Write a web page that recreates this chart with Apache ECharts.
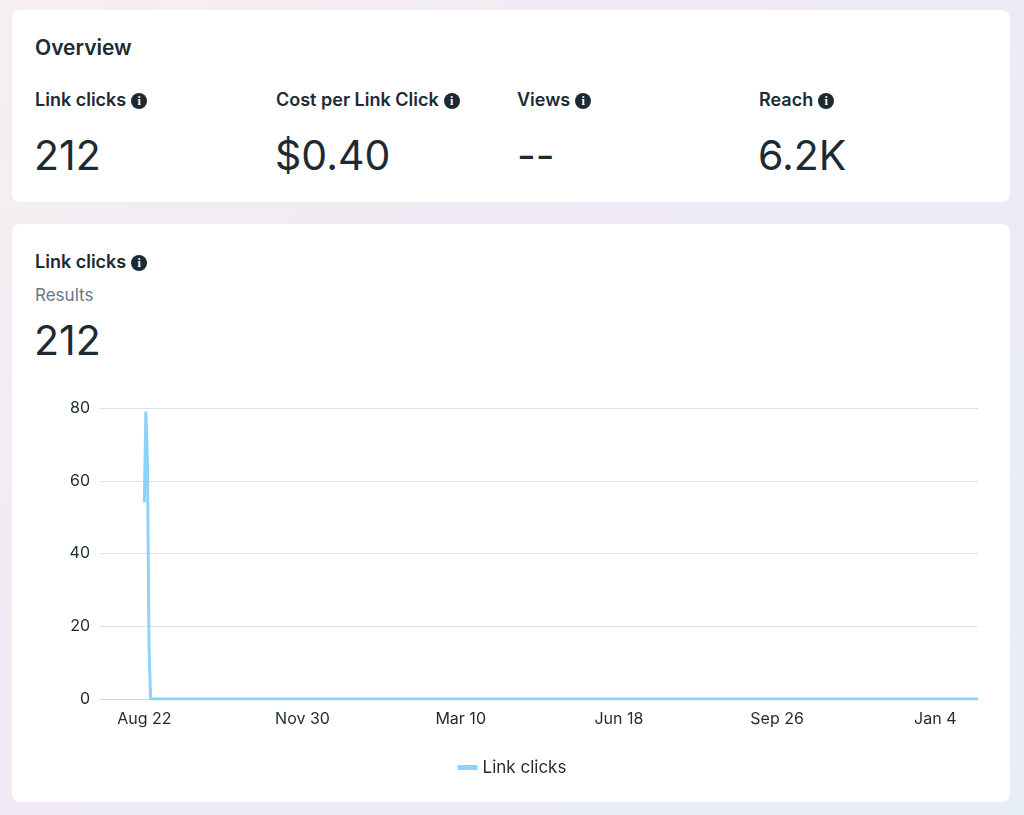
<!DOCTYPE html>
<html><head><meta charset="utf-8">
<script src="https://cdn.jsdelivr.net/npm/echarts@6/dist/echarts.min.js"></script>
<style>
body{margin:0;width:1024px;height:815px;font-family:Inter,"Noto Sans",sans-serif;color:#1c2b33;background:linear-gradient(135deg,#f6eef0 0%,#eeeaf6 50%,#e6eef8 100%);position:relative;overflow:hidden}
.card{position:absolute;background:#fff;border-radius:8px;left:12px;width:998px}
.t{position:absolute;font-weight:600;font-size:18px}
.i{display:inline-block;width:16px;height:16px;border-radius:50%;background:#1c2b33;color:#fff;font-size:12px;text-align:center;line-height:16px;font-family:serif;font-weight:700;vertical-align:1px;margin-left:5px}
.big{position:absolute;font-size:41px;font-weight:400}
#c{position:absolute;left:0;top:0;width:1024px;height:815px}
</style></head><body>
<div class="card" style="top:10px;height:192px"></div>
<div class="card" style="top:224px;height:578px"></div>
<div class="t" style="left:35px;top:35px;font-size:21px">Overview</div>
<div class="t" style="left:35px;top:89px">Link clicks<span class="i">i</span></div>
<div class="t" style="left:276px;top:89px">Cost per Link Click<span class="i">i</span></div>
<div class="t" style="left:517px;top:89px">Views<span class="i">i</span></div>
<div class="t" style="left:759px;top:89px">Reach<span class="i">i</span></div>
<div class="big" style="left:34px;top:130px">212</div>
<div class="big" style="left:275px;top:130px">$0.40</div>
<div class="big" style="left:517px;top:130px">--</div>
<div class="big" style="left:758px;top:130px">6.2K</div>
<div class="t" style="left:35px;top:251px">Link clicks<span class="i">i</span></div>
<div style="position:absolute;left:35px;top:285px;font-size:17px;color:#67788a">Results</div>
<div class="big" style="left:34px;top:315px">212</div>
<div id="c"></div>
<script>
const startDate = new Date(2022, 7, 22);
const dayIndex = [0, 1, 2, 3, 4, 527];
const linkClicks = [54, 79, 65, 14, 0, 0];
const tickDays = [0, 100, 200, 300, 400, 500];
const mon = ['Jan','Feb','Mar','Apr','May','Jun','Jul','Aug','Sep','Oct','Nov','Dec'];
function fmt(d){const t=new Date(startDate.getTime()+d*86400000);return mon[t.getMonth()]+' '+t.getDate();}
const chart = echarts.init(document.getElementById('c'));
chart.setOption({
  animation:false,
  grid:{left:100,right:46,top:408,bottom:116},
  legend:{bottom:34,left:'center',icon:'roundRect',itemWidth:20,itemHeight:5,textStyle:{fontSize:17,color:'#1c2b33',fontFamily:'Inter'}},
  xAxis:{type:'value',min:-28,max:527,splitLine:{show:false},
    axisLine:{onZero:false,lineStyle:{color:'#d0d4d8'}},axisTick:{show:false},
    axisLabel:{customValues:tickDays,formatter:v=>fmt(v),fontSize:16,color:'#1c2b33',margin:12,fontFamily:'Inter'}},
  yAxis:{type:'value',min:0,max:80,interval:20,axisLine:{show:false},axisTick:{show:false},
    axisLabel:{fontSize:16,color:'#1c2b33',margin:10,fontFamily:'Inter'},
    splitLine:{lineStyle:{color:'#dcdfe3'}}},
  series:[{name:'Link clicks',type:'line',showSymbol:false,data:dayIndex.map((d,i)=>[d,linkClicks[i]]),
    lineStyle:{color:'#8dd3f7',width:3},itemStyle:{color:'#8dd3f7'}}]
});
</script></body></html>
